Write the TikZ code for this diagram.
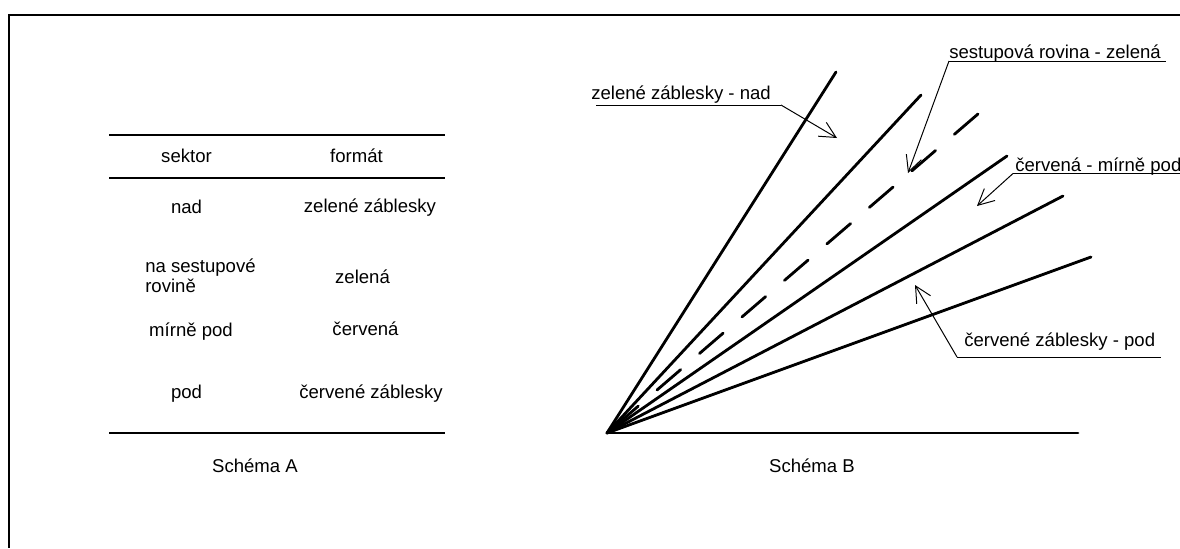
\documentclass[tikz,border=0pt]{standalone}
\usepackage{fontspec}
\setmainfont{Liberation Sans}
\usetikzlibrary{arrows.meta}

\tikzset{
    txt/.style={inner sep=0pt, anchor=base, font=\fontsize{13.2}{13.9}\selectfont},
    rule/.style={line width=1pt},
    beam/.style={line width=2pt, line cap=round},
    hair/.style={line width=0.7pt},
    pointer/.style={hair, -{Straight Barb[length=4mm, width=4mm, line width=0.7pt]}},
}

\begin{document}
\begin{tikzpicture}[x=0.025cm, y=-0.025cm]
        \useasboundingbox (0,0) rectangle (1180,548);

        % frame (top and left edge only)
        \draw[line width=1.8pt] (1180,15) -- (9,15) -- (9,548);

        % table A
        \draw[rule] (109,135) -- (445,135);
        \draw[rule] (109,178) -- (445,178);
        \draw[rule] (109,433) -- (445,433);

        \node[txt] at (186.5,162.5)  (sektor)  {sektor};
        \node[txt] at (356.5,162.5)  (format)  {formát};
        \node[txt] at (186.5,213)    (nad)     {nad};
        \node[txt] at (370,212.5)    (nadfmt)  {zelené záblesky};
        % base of a two-line node sits on its last line
        \node[txt, anchor=base west, align=left] at (145,292) (sest) {na sestupové\\rovině};
        \node[txt] at (362.5,283)    (sestfmt) {zelená};
        \node[txt] at (191,336)      (mirne)   {mírně pod};
        \node[txt] at (365.5,335)    (mirnefmt){červená};
        \node[txt] at (186.5,398)    (pod)     {pod};
        \node[txt] at (371,398)      (podfmt)  {červené záblesky};
        \node[txt] at (255,472.5)    (schemaA) {Schéma A};

        % fan of sectors B
        \coordinate (o)      at (607,433);
        \coordinate (nadE)   at (836,72);
        \coordinate (hornE)  at (921,95);
        \coordinate (glideE) at (978,114);
        \coordinate (mirnE)  at (1007,156);
        \coordinate (podE)   at (1063,196);
        \coordinate (dolE)   at (1091,257);
        \coordinate (zemE)   at (1078,433);

        \foreach \e in {nadE, hornE, mirnE, podE, dolE, zemE}
            \draw[beam] (o) -- (\e);
        \draw[beam, dash pattern=on 0.78cm off 0.62cm] (glideE) -- (o);

        % labels with underline and pointer
        \node[txt, anchor=base west] at (591,99.3)  (lnad)  {zelené záblesky - nad};
        \coordinate (lnadA)   at (596,105);
        \coordinate (lnadB)   at (781,105);
        \coordinate (lnadTip) at (837,138);
        \draw[hair]    (lnadA) -- (lnadB);
        \draw[pointer] (lnadB) -- (lnadTip);

        \node[txt, anchor=base west] at (949,58.5)  (lsest) {sestupová rovina - zelená};
        \coordinate (lsestA)   at (949,61);
        \coordinate (lsestB)   at (1166,61);
        \coordinate (lsestTip) at (908,173);
        \draw[hair]    (lsestA) -- (lsestB);
        \draw[pointer] (lsestA) -- (lsestTip);

        \node[txt, anchor=base west] at (1015,171.5) (lmirne) {červená - mírně pod};
        \coordinate (lmirneA)   at (1013,173.5);
        \coordinate (lmirneB)   at (1190,173.5);
        \coordinate (lmirneTip) at (977,206);
        \draw[hair]    (lmirneA) -- (lmirneB);
        \draw[pointer] (lmirneA) -- (lmirneTip);

        \node[txt, anchor=base west] at (964,346)   (lpod)  {červené záblesky - pod};
        \coordinate (lpodA)   at (957,357);
        \coordinate (lpodB)   at (1161,357);
        \coordinate (lpodTip) at (915,285);
        \draw[hair]    (lpodA) -- (lpodB);
        \draw[pointer] (lpodA) -- (lpodTip);

        \node[txt] at (812,472.5) (schemaB) {Schéma B};

\end{tikzpicture}
\end{document}
